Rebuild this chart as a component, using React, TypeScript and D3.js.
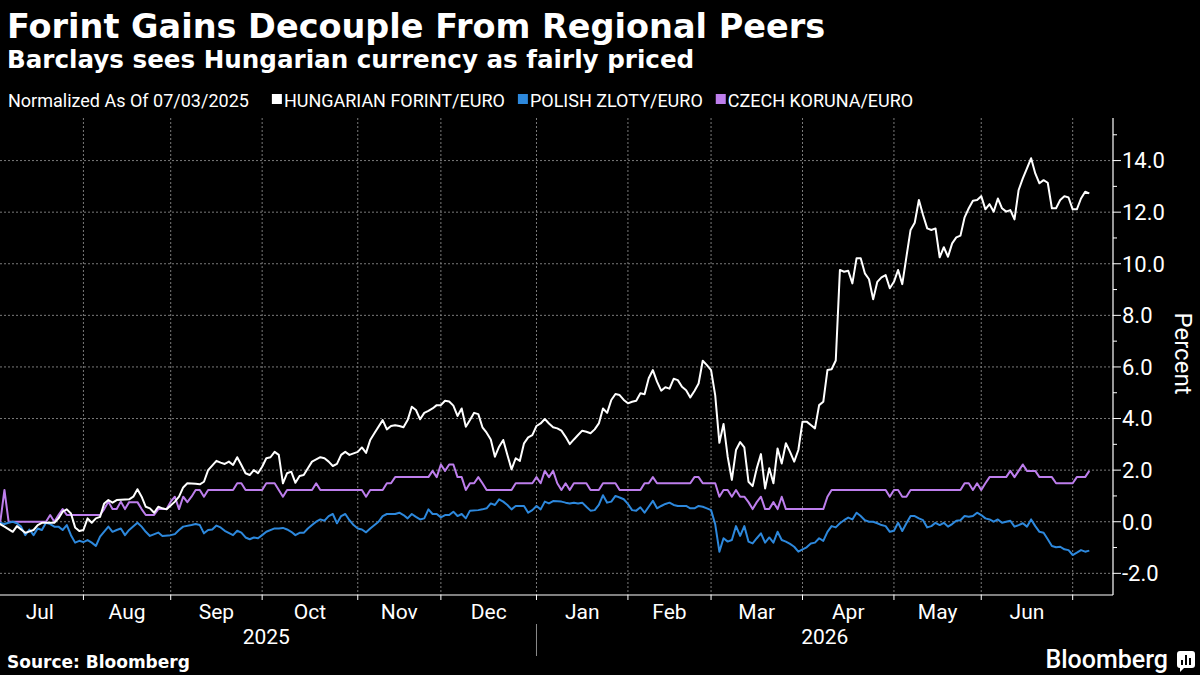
import React, { useEffect, useRef } from "react";
import * as d3 from "d3";

// [trading day since 07/03/2025, % change vs. that day]
const HUF_EUR: [number, number][] = [
  [0, 0], [2, -0.19], [4, -0.39], [5, -0.17], [7, -0.43], [9, -0.32], [10, -0.13], [11, -0.04], [14, -0.04],
  [15, 0.13], [16, 0.39], [17, 0.48], [18, 0.32], [19, -0.22], [20, -0.36], [21, -0.32], [22, 0.13], [23, -0.04],
  [24, 0.13], [25, 0.19], [26, 0.71], [27, 0.84], [28, 0.74], [29, 0.84], [32, 0.87], [33, 0.97], [34, 1.26],
  [35, 0.97], [36, 0.58], [37, 0.52], [38, 0.35], [39, 0.58], [40, 0.52], [41, 0.48], [43, 0.78], [44, 0.97],
  [45, 1.33], [46, 1.49], [48, 1.47], [49, 1.45], [50, 1.55], [51, 2.0], [53, 2.36], [54, 2.29], [55, 2.24],
  [56, 2.33], [57, 2.2], [58, 2.5], [59, 2.2], [60, 1.88], [61, 1.81], [62, 2.0], [63, 1.88], [64, 2.13],
  [65, 2.46], [66, 2.5], [67, 2.71], [68, 2.59], [69, 1.49], [70, 1.88], [71, 1.94], [72, 1.51], [73, 1.77],
  [74, 1.81], [75, 2.07], [76, 2.33], [78, 2.5], [79, 2.46], [80, 2.33], [81, 2.16], [82, 2.24], [83, 2.59],
  [84, 2.71], [85, 2.59], [86, 2.65], [87, 2.71], [88, 2.88], [89, 2.67], [90, 3.17], [91, 3.43], [93, 3.94],
  [94, 3.58], [95, 3.71], [96, 3.74], [97, 3.71], [98, 3.66], [99, 3.94], [100, 4.46], [101, 4.33], [102, 3.97],
  [103, 4.22], [104, 4.3], [105, 4.39], [106, 4.52], [107, 4.52], [108, 4.69], [109, 4.66], [110, 4.5],
  [111, 4.1], [112, 4.39], [113, 3.68], [114, 3.94], [115, 4.22], [116, 4.17], [117, 3.66], [118, 3.45],
  [119, 3.19], [120, 2.52], [121, 2.91], [122, 3.17], [123, 2.59], [124, 2.03], [125, 2.46], [126, 2.36],
  [127, 3.04], [128, 3.27], [129, 3.36], [130, 3.71], [131, 3.81], [132, 3.98], [133, 3.81], [134, 3.66],
  [135, 3.62], [136, 3.53], [137, 3.29], [138, 3.01], [139, 3.19], [140, 3.36], [141, 3.53], [142, 3.49],
  [143, 3.43], [144, 3.58], [145, 3.81], [146, 4.39], [147, 4.22], [148, 4.72], [149, 4.95], [150, 4.91],
  [151, 4.72], [152, 4.59], [153, 4.65], [154, 4.69], [155, 4.98], [156, 4.94], [157, 5.56], [158, 5.88],
  [159, 5.43], [160, 5.08], [161, 5.21], [162, 5.16], [163, 5.54], [164, 5.49], [165, 5.23], [166, 5.1],
  [167, 4.82], [168, 5.07], [169, 5.36], [170, 6.24], [171, 6.07], [172, 5.88], [173, 4.9], [174, 3.06],
  [175, 3.79], [176, 2.52], [177, 1.62], [178, 2.78], [179, 3.09], [180, 2.88], [181, 1.55], [182, 1.38],
  [183, 2.07], [184, 2.62], [185, 1.29], [186, 2.07], [187, 1.49], [188, 2.84], [189, 2.26], [190, 3.04],
  [191, 2.71], [192, 2.33], [193, 2.78], [194, 3.88], [195, 3.88], [196, 3.75], [197, 3.62], [198, 4.52],
  [199, 4.65], [200, 5.88], [201, 5.91], [202, 6.25], [203, 9.76], [204, 9.69], [205, 9.73], [206, 9.24],
  [207, 10.21], [208, 10.21], [209, 9.63], [210, 9.4], [211, 8.62], [212, 9.3], [213, 9.47], [214, 9.56],
  [215, 9.05], [216, 9.3], [217, 9.76], [218, 9.21], [219, 10.27], [220, 11.31], [221, 11.59], [222, 12.47],
  [223, 11.89], [224, 11.37], [225, 11.31], [226, 11.37], [227, 10.25], [228, 10.64], [229, 10.27],
  [230, 10.79], [231, 11.02], [232, 11.09], [233, 11.8], [234, 12.15], [235, 12.44], [236, 12.47],
  [237, 12.62], [238, 12.11], [239, 12.31], [240, 12.02], [241, 12.53], [242, 12.15], [243, 12.02],
  [244, 12.08], [245, 11.72], [246, 12.86], [247, 13.31], [248, 13.7], [249, 14.09], [250, 13.5],
  [251, 13.12], [252, 13.24], [253, 13.14], [254, 12.15], [255, 12.15], [256, 12.47], [257, 12.62],
  [258, 12.57], [259, 12.11], [260, 12.11], [261, 12.53], [262, 12.79], [263, 12.73],
];

const PLN_EUR: [number, number][] = [
  [0, 0], [2, -0.09], [3, -0.04], [4, 0], [5, -0.06], [6, -0.19], [7, -0.52], [8, -0.3], [9, -0.52],
  [10, -0.26], [11, -0.32], [12, -0.04], [13, -0.09], [14, -0.19], [15, -0.19], [16, -0.32], [17, -0.13],
  [18, -0.52], [19, -0.81], [20, -0.74], [21, -0.79], [22, -0.71], [23, -0.81], [24, -0.94], [25, -0.58],
  [27, -0.19], [28, -0.39], [29, -0.32], [30, -0.26], [31, -0.52], [32, -0.32], [34, -0.04], [35, -0.19],
  [36, -0.39], [37, -0.55], [39, -0.42], [40, -0.55], [42, -0.52], [43, -0.48], [44, -0.32], [45, -0.19],
  [47, -0.13], [48, -0.09], [49, -0.13], [50, -0.45], [51, -0.32], [52, -0.3], [53, -0.15], [54, -0.22],
  [55, -0.35], [57, -0.52], [58, -0.35], [59, -0.42], [60, -0.61], [61, -0.68], [62, -0.61], [63, -0.64],
  [64, -0.52], [65, -0.39], [67, -0.26], [68, -0.26], [69, -0.24], [70, -0.3], [71, -0.39], [72, -0.52],
  [73, -0.43], [74, -0.43], [75, -0.26], [76, -0.13], [77, 0], [78, 0.09], [79, 0.04], [80, 0.22], [81, 0.3],
  [82, -0.06], [83, 0.22], [84, 0.3], [85, 0.06], [86, -0.13], [87, -0.26], [88, -0.3], [89, -0.41],
  [90, -0.26], [92, 0], [93, 0.22], [94, 0.3], [96, 0.3], [97, 0.35], [98, 0.26], [99, 0.13], [100, 0.3],
  [101, 0.19], [102, 0.09], [103, 0.13], [104, 0.48], [105, 0.3], [106, 0.3], [107, 0.17], [108, 0.26],
  [109, 0.26], [110, 0.39], [111, 0.22], [112, 0.3], [113, 0.13], [114, 0.43], [116, 0.45], [117, 0.48],
  [118, 0.52], [119, 0.71], [120, 0.65], [121, 0.87], [122, 0.78], [123, 0.65], [124, 0.48], [125, 0.61],
  [126, 0.61], [127, 0.61], [128, 0.35], [129, 0.45], [130, 0.61], [131, 0.48], [132, 0.78], [133, 0.71],
  [134, 0.8], [136, 0.78], [137, 0.74], [138, 0.71], [139, 0.74], [140, 0.71], [141, 0.74], [142, 0.58],
  [143, 0.43], [144, 0.45], [145, 0.65], [146, 1.03], [147, 0.74], [148, 0.78], [149, 1.0], [150, 0.94],
  [151, 0.87], [152, 0.69], [153, 0.45], [154, 0.43], [155, 0.56], [156, 0.35], [157, 0.58], [158, 0.81],
  [159, 0.52], [160, 0.61], [161, 0.69], [162, 0.74], [163, 0.65], [164, 0.61], [166, 0.61], [167, 0.52],
  [168, 0.52], [169, 0.61], [170, 0.58], [171, 0.52], [172, 0.45], [173, -0.1], [174, -1.16], [175, -0.64],
  [176, -0.77], [177, -0.71], [178, -0.17], [179, -0.55], [180, -0.17], [181, -0.77], [182, -0.84],
  [183, -0.64], [184, -0.45], [185, -0.81], [186, -0.61], [187, -0.81], [188, -0.39], [189, -0.71],
  [190, -0.77], [191, -0.86], [192, -0.97], [193, -1.16], [194, -1.07], [195, -0.99], [196, -0.84],
  [197, -0.81], [198, -0.64], [199, -0.74], [200, -0.39], [201, -0.17], [202, -0.22], [203, -0.06],
  [204, 0.06], [205, 0.16], [206, 0.09], [207, 0.35], [208, 0.22], [209, 0.06], [210, 0], [211, 0],
  [212, -0.06], [213, -0.13], [214, -0.17], [215, -0.39], [216, -0.35], [217, -0.04], [218, -0.36],
  [219, -0.06], [220, 0.22], [221, 0.22], [222, 0.13], [223, 0.06], [224, -0.22], [225, -0.17], [226, -0.04],
  [227, -0.13], [228, -0.04], [229, -0.19], [230, -0.09], [231, 0.04], [232, 0.06], [233, 0.22], [234, 0.19],
  [235, 0.22], [236, 0.35], [237, 0.26], [238, 0.13], [239, 0.09], [240, 0], [241, 0.09], [242, -0.04],
  [243, 0], [244, 0.04], [245, -0.19], [246, -0.13], [247, -0.06], [248, -0.19], [249, 0.09], [250, -0.17],
  [251, -0.39], [252, -0.43], [253, -0.68], [254, -0.94], [255, -0.99], [256, -0.97], [257, -1.07],
  [258, -1.1], [259, -1.29], [260, -1.2], [261, -1.1], [262, -1.16], [263, -1.12],
];

const CZK_EUR: [number, number][] = [
  [0, 0], [1, 0], [2, 1.23], [3, 0], [12, 0], [13, 0.26], [14, 0], [15, 0.26], [16, 0.49], [17, 0.26],
  [25, 0.26], [26, 0.49], [27, 0.78], [28, 0.49], [29, 0.49], [30, 0.78], [31, 0.49], [32, 0.76], [34, 0.76],
  [35, 0.49], [36, 0.26], [38, 0.26], [39, 0.49], [41, 0.49], [42, 0.78], [43, 0.97], [44, 0.49], [45, 0.97],
  [46, 0.76], [47, 0.97], [48, 1.23], [49, 1.23], [50, 0.97], [51, 1.23], [57, 1.23], [58, 1.49], [59, 1.49],
  [60, 1.23], [64, 1.23], [65, 1.49], [67, 1.49], [68, 1.23], [69, 0.97], [70, 1.23], [76, 1.23], [77, 1.49],
  [78, 1.23], [88, 1.23], [89, 0.97], [90, 1.23], [93, 1.23], [94, 1.49], [95, 1.49], [96, 1.73], [104, 1.73],
  [105, 1.97], [106, 1.73], [107, 2.22], [108, 1.97], [109, 2.22], [110, 2.22], [111, 1.73], [112, 1.73],
  [113, 1.23], [114, 1.49], [115, 1.49], [116, 1.73], [117, 1.49], [118, 1.23], [124, 1.23], [125, 1.49],
  [129, 1.49], [130, 1.73], [131, 1.49], [132, 1.97], [133, 1.73], [134, 1.97], [135, 1.49], [136, 1.23],
  [137, 1.49], [138, 1.23], [139, 1.49], [142, 1.49], [143, 1.23], [145, 1.23], [146, 1.49], [149, 1.49],
  [150, 1.23], [155, 1.23], [156, 1.49], [157, 1.49], [158, 1.73], [159, 1.49], [167, 1.49], [168, 1.73],
  [169, 1.73], [170, 1.49], [173, 1.49], [174, 0.97], [175, 1.23], [176, 1.23], [177, 0.97], [178, 1.23],
  [179, 0.97], [180, 0.97], [181, 0.76], [182, 0.49], [183, 0.76], [184, 0.97], [185, 0.49], [186, 0.49],
  [187, 0.76], [188, 0.49], [189, 0.97], [190, 0.49], [199, 0.49], [200, 0.97], [201, 1.23], [214, 1.23],
  [215, 0.97], [216, 1.23], [217, 1.23], [218, 0.97], [219, 0.97], [220, 1.23], [232, 1.23], [233, 1.49],
  [234, 1.49], [235, 1.23], [236, 1.49], [237, 1.23], [238, 1.49], [239, 1.73], [243, 1.73], [244, 1.97],
  [245, 1.73], [246, 1.97], [247, 2.22], [248, 1.97], [250, 1.97], [251, 1.73], [254, 1.73], [255, 1.49],
  [259, 1.49], [260, 1.73], [262, 1.73], [263, 1.97],
];

// trading-day index of the first session of each month
const MONTH_STARTS = [0, 21, 42, 64, 87, 107, 130, 152, 172, 194, 216, 237, 259];
const MONTH_LABELS = ["Jul", "Aug", "Sep", "Oct", "Nov", "Dec", "Jan", "Feb", "Mar", "Apr", "May", "Jun"];
const YEAR_LABELS = ["2025", "2026"];
const YEAR_BREAK = 130;

const SERIES = [
  { name: "HUNGARIAN FORINT/EURO", color: "#ffffff", data: HUF_EUR },
  { name: "POLISH ZLOTY/EURO", color: "#2d88dc", data: PLN_EUR },
  { name: "CZECH KORUNA/EURO", color: "#bd7eec", data: CZK_EUR },
];

const W = 1200;
const H = 675;
const BOLD = "'DejaVu Sans', sans-serif";
const NARROW = "Roboto, sans-serif";

export default function App() {
  const svgRef = useRef<SVGSVGElement>(null);

  useEffect(() => {
    const svg = d3.select(svgRef.current);
    svg.selectAll("*").remove();

    const plot = { left: 0, right: 1113, top: 118, bottom: 595 };
    const x = d3.scaleLinear().domain([0.93, 268.7]).range([plot.left, plot.right]);
    const y = d3.scaleLinear().domain([-2.84, 15.65]).range([plot.bottom, plot.top]);

    svg.append("rect").attr("width", W).attr("height", H).attr("fill", "#000");

    // Headline block
    svg.append("text")
      .attr("x", 7).attr("y", 38)
      .attr("fill", "#fff")
      .style("font-family", BOLD).style("font-weight", 700).style("font-size", "33.5px")
      .text("Forint Gains Decouple From Regional Peers");

    svg.append("text")
      .attr("x", 7).attr("y", 68)
      .attr("fill", "#fff")
      .style("font-family", BOLD).style("font-weight", 700).style("font-size", "24.6px")
      .text("Barclays sees Hungarian currency as fairly priced");

    // Legend
    const legend = svg.append("g").attr("transform", "translate(8,107)");
    const lead = legend.append("text")
      .attr("fill", "#fff")
      .style("font-family", NARROW).style("font-size", "18px")
      .text("Normalized As Of 07/03/2025");
    let cursor = (lead.node() as SVGTextElement).getComputedTextLength() + 23;
    SERIES.forEach(s => {
      legend.append("rect")
        .attr("x", cursor).attr("y", -13).attr("width", 10).attr("height", 10)
        .attr("fill", s.color);
      const t = legend.append("text")
        .attr("x", cursor + 12)
        .attr("fill", "#fff")
        .style("font-family", NARROW).style("font-size", "18px")
        .text(s.name);
      cursor += 12 + (t.node() as SVGTextElement).getComputedTextLength() + 13;
    });

    // Grid
    const majorTicks = d3.range(-2, 15, 2);
    const minorTicks = d3.range(-1, 16, 2);
    svg.append("g")
      .selectAll("line")
      .data(majorTicks)
      .join("line")
      .attr("x1", plot.left).attr("x2", plot.right)
      .attr("y1", d => y(d)).attr("y2", d => y(d))
      .attr("stroke", "#7a7a7a").attr("stroke-width", 1).attr("stroke-dasharray", "2,2");

    svg.append("g")
      .selectAll("line")
      .data(MONTH_STARTS.slice(1))
      .join("line")
      .attr("x1", d => x(d)).attr("x2", d => x(d))
      .attr("y1", plot.top).attr("y2", plot.bottom)
      .attr("stroke", "#7a7a7a").attr("stroke-width", 1).attr("stroke-dasharray", "2,2");

    // Series
    const line = d3.line<[number, number]>()
      .x(d => x(d[0]))
      .y(d => y(d[1]));

    [...SERIES].reverse().forEach(s => {
      svg.append("path")
        .datum(s.data)
        .attr("d", line)
        .attr("fill", "none")
        .attr("stroke", s.color)
        .attr("stroke-width", 2)
        .attr("stroke-linejoin", "round");
    });

    // Right axis
    const axisR = svg.append("g");
    axisR.append("line")
      .attr("x1", plot.right).attr("x2", plot.right)
      .attr("y1", plot.top).attr("y2", plot.bottom)
      .attr("stroke", "#fff").attr("stroke-width", 1.2);
    axisR.selectAll(".major")
      .data(majorTicks)
      .join("line")
      .attr("x1", plot.right).attr("x2", plot.right + 8)
      .attr("y1", d => y(d)).attr("y2", d => y(d))
      .attr("stroke", "#fff");
    axisR.selectAll(".minor")
      .data(minorTicks.filter(d => y(d) >= plot.top))
      .join("line")
      .attr("x1", plot.right).attr("x2", plot.right + 4)
      .attr("y1", d => y(d)).attr("y2", d => y(d))
      .attr("stroke", "#fff");
    axisR.selectAll("text")
      .data(majorTicks)
      .join("text")
      .attr("x", plot.right + 9)
      .attr("y", d => y(d))
      .attr("dy", "0.36em")
      .attr("fill", "#fff")
      .style("font-family", NARROW).style("font-size", "22px")
      .text(d => d.toFixed(1));

    svg.append("text")
      .attr("transform", `translate(1175,${(plot.top + plot.bottom) / 2 - 3}) rotate(90)`)
      .attr("text-anchor", "middle")
      .attr("fill", "#fff")
      .style("font-family", NARROW).style("font-size", "24px")
      .text("Percent");

    // Bottom axis
    svg.append("line")
      .attr("x1", plot.left).attr("x2", plot.right)
      .attr("y1", plot.bottom).attr("y2", plot.bottom)
      .attr("stroke", "#fff").attr("stroke-width", 1.2);
    svg.append("g")
      .selectAll("line")
      .data(MONTH_STARTS.slice(1))
      .join("line")
      .attr("x1", d => x(d)).attr("x2", d => x(d))
      .attr("y1", plot.bottom).attr("y2", plot.bottom + 5)
      .attr("stroke", "#fff");
    svg.append("g")
      .selectAll("text")
      .data(MONTH_LABELS)
      .join("text")
      .attr("x", (_, i) => (x(MONTH_STARTS[i]) + x(MONTH_STARTS[i + 1])) / 2)
      .attr("y", 619)
      .attr("text-anchor", "middle")
      .attr("fill", "#fff")
      .style("font-family", NARROW).style("font-size", "21px")
      .text(d => d);

    const yearSpans = [[x(0), x(YEAR_BREAK)], [x(YEAR_BREAK), plot.right]];
    svg.append("g")
      .selectAll("text")
      .data(YEAR_LABELS)
      .join("text")
      .attr("x", (_, i) => (yearSpans[i][0] + yearSpans[i][1]) / 2)
      .attr("y", 644)
      .attr("text-anchor", "middle")
      .attr("fill", "#fff")
      .style("font-family", NARROW).style("font-size", "21px")
      .text(d => d);
    svg.append("line")
      .attr("x1", x(YEAR_BREAK)).attr("x2", x(YEAR_BREAK))
      .attr("y1", 624).attr("y2", 656)
      .attr("stroke", "#8a8a8a");

    // Footer
    svg.append("text")
      .attr("x", 7).attr("y", 668)
      .attr("fill", "#fff")
      .style("font-family", BOLD).style("font-weight", 700).style("font-size", "17px")
      .text("Source: Bloomberg");

    svg.append("text")
      .attr("x", 1168).attr("y", 668)
      .attr("text-anchor", "end")
      .attr("fill", "#fff")
      .style("font-family", "Roboto, sans-serif").style("font-weight", 500).style("font-size", "25px")
      .text("Bloomberg");

    const logo = svg.append("g").attr("transform", "translate(1177,651)");
    logo.append("path")
      .attr("d", "M3,0 H15 Q18,0 18,3 V14 Q18,17 15,17 H7 L3,21 V17 Q0,17 0,14 V3 Q0,0 3,0 Z")
      .attr("fill", "#fff");
    [[4, 9, 5], [8, 4, 10], [12, 7, 7]].forEach(([bx, by, bh]) => {
      logo.append("rect")
        .attr("x", bx).attr("y", by).attr("width", 2).attr("height", bh)
        .attr("fill", "#000");
    });
  }, []);

  return (
    <div style={{ position: "absolute", left: 0, top: 0, width: W, height: H, background: "#000" }}>
      <svg ref={svgRef} width={W} height={H} />
    </div>
  );
}
